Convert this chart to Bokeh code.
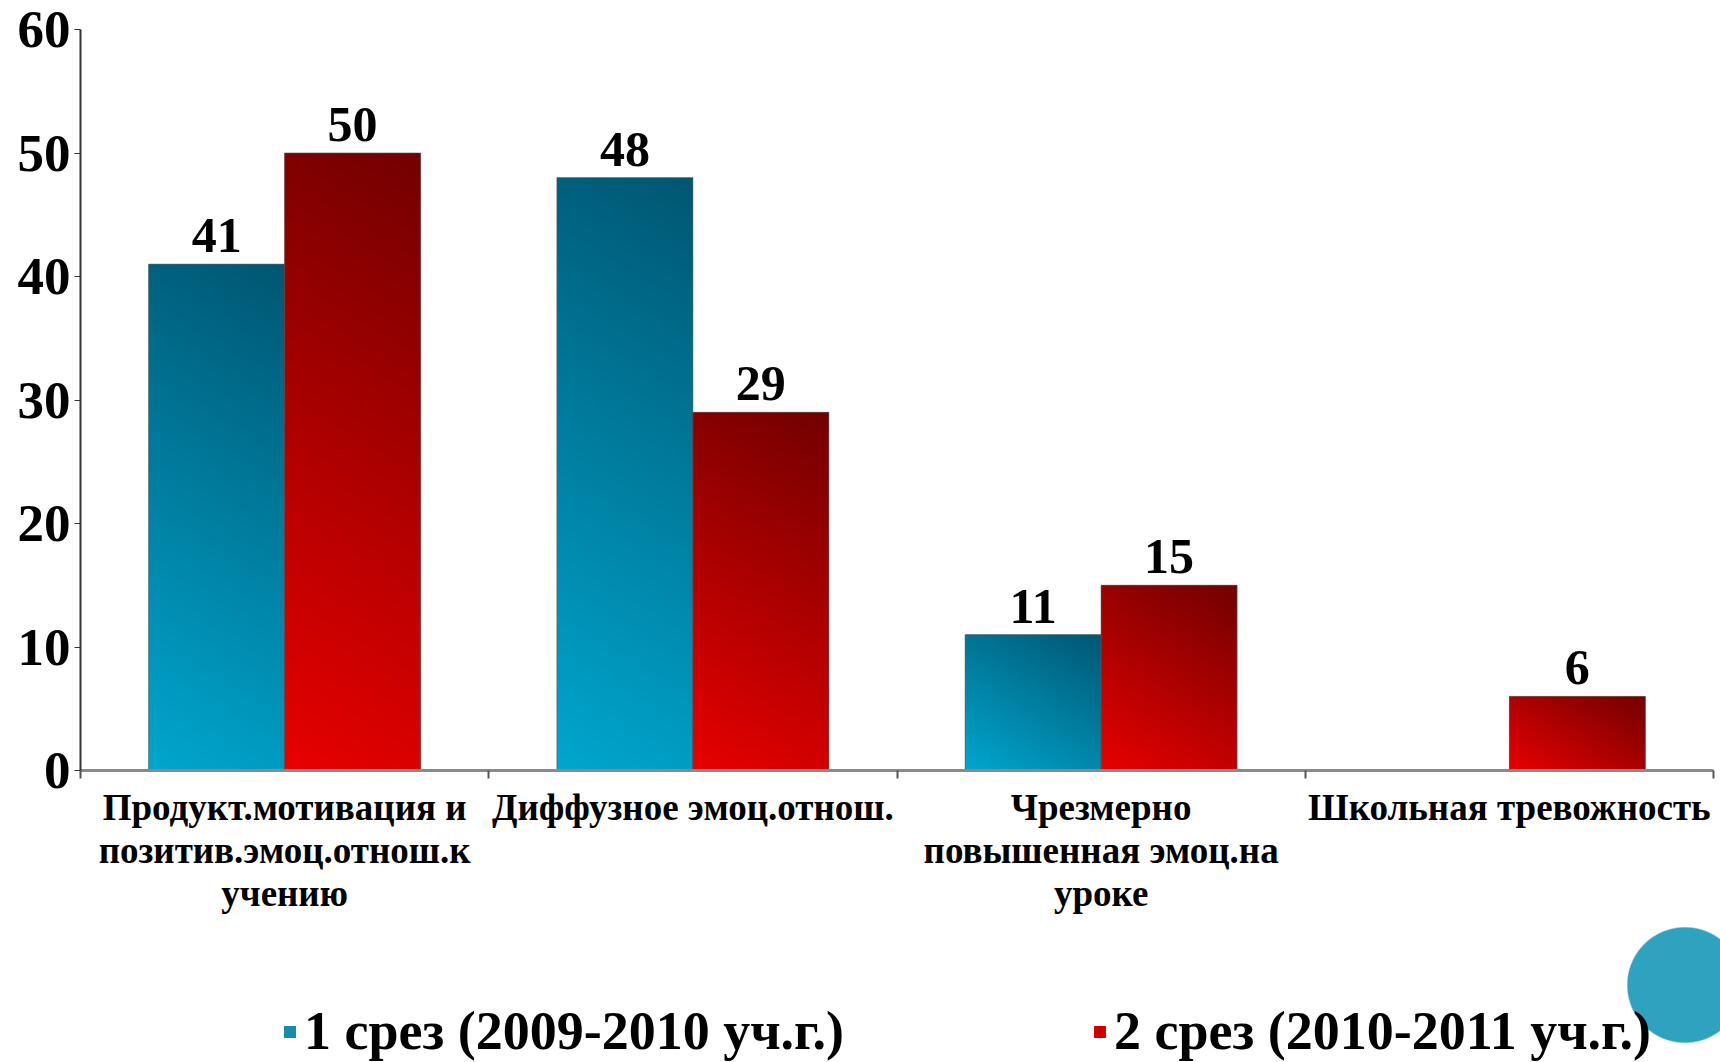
import numpy as np
from bokeh.plotting import figure
from bokeh.layouts import column
from bokeh.models import (ColumnDataSource, Range1d, FixedTicker, Legend, LegendItem,
                          LabelSet, InlineStyleSheet)
from bokeh.embed import file_html
from bokeh.resources import INLINE

# ---- data ----
categories = [
    "Продукт.мотивация и\nпозитив.эмоц.отнош.к\nучению",
    "Диффузное эмоц.отнош.",
    "Чрезмерно\nповышенная эмоц.на\nуроке",
    "Школьная тревожность",
]
series_names = ["1 срез (2009-2010 уч.г.)", "2 срез (2010-2011 уч.г.)"]
series1 = [41, 48, 11, None]
series2 = [50, 29, 15, 6]
y_ticks = [0, 10, 20, 30, 40, 50, 60]

FONT = "Liberation Serif"
BLUE_LIGHT, BLUE_DARK, BLUE_MID = (0, 166, 206), (0, 86, 114), "#1a8aab"
RED_LIGHT, RED_DARK, RED_MID = (232, 0, 0), (114, 0, 0), "#cc0000"

W_TOTAL, H_TOTAL = 1720, 1062
TOP, LEFT, RIGHT, BOTTOM = 29, 80, 7, 152
FRAME_H = 741
H_MAIN = TOP + FRAME_H + BOTTOM
FRAME_W = W_TOTAL - LEFT - RIGHT

centers = [i + 0.5 for i in range(len(categories))]
bw = 0.333
offsets = [-bw / 2, bw / 2]

p = figure(width=W_TOTAL, height=H_MAIN, output_backend="svg", toolbar_location=None,
           x_range=Range1d(0, len(categories)), y_range=Range1d(0, 60),
           min_border_left=LEFT, min_border_top=TOP, min_border_right=RIGHT,
           min_border_bottom=BOTTOM)
p.outline_line_color = None
p.grid.visible = False
p.border_fill_alpha = 0
p.background_fill_alpha = 0

# pixel size of a bar, used only to orient the diagonal shading like the original
px_w = FRAME_W / len(categories) * bw
px_per_unit = FRAME_H / 60.0


def shade(v, light, dark, a=0.6):
    w = int(round(px_w))
    h = max(int(round(v * px_per_unit)), 2)
    X, Y = np.meshgrid(np.arange(w) + 0.5, np.arange(h) + 0.5)
    t = (a * X + Y) / (a * w + h)
    lo, hi = np.array(light, float), np.array(dark, float)
    rgb = lo + (hi - lo) * t[..., None]
    img = np.empty((h, w), dtype=np.uint32)
    view = img.view(dtype=np.uint8).reshape((h, w, 4))
    view[..., :3] = np.round(rgb).astype(np.uint8)
    view[..., 3] = 255
    return img


for vals, off, light, dark, mid in ((series1, offsets[0], BLUE_LIGHT, BLUE_DARK, BLUE_MID),
                                     (series2, offsets[1], RED_LIGHT, RED_DARK, RED_MID)):
    xs = [c + off for c, v in zip(centers, vals) if v is not None]
    tops = [v for v in vals if v is not None]
    src = ColumnDataSource(dict(x=xs, left=[x - bw / 2 for x in xs], top=tops,
                                label=[str(v) for v in tops],
                                img=[shade(v, light, dark) for v in tops]))
    p.vbar(x="x", top="top", bottom=0, width=bw, source=src, fill_color=mid, line_color=None)
    p.image_rgba(image="img", x="left", y=0, dw=bw, dh="top", source=src)
    p.vbar(x="x", top="top", bottom=0, width=bw, source=src, fill_color=None,
           line_color="#555555", line_alpha=0.6, line_width=1)
    p.add_layout(LabelSet(x="x", y="top", text="label", source=src, text_align="center",
                          text_baseline="bottom", y_offset=12, text_font=FONT,
                          text_font_style="bold", text_font_size="50px", text_color="black"))

ya = p.yaxis[0]
ya.ticker = FixedTicker(ticks=y_ticks)
ya.major_label_text_font = FONT
ya.major_label_text_font_style = "bold"
ya.major_label_text_font_size = "53px"
ya.major_label_text_color = "black"
ya.axis_line_color = "#333333"
ya.axis_line_width = 2
ya.major_tick_line_color = "#333333"
ya.major_tick_out = 6
ya.major_tick_in = 0
ya.minor_tick_line_color = None
ya.major_label_standoff = 4

xa = p.xaxis[0]
xa.ticker = FixedTicker(ticks=centers, minor_ticks=list(range(len(categories) + 1)))
xa.major_label_overrides = {c: lab for c, lab in zip(centers, categories)}
xa.major_label_text_font = FONT
xa.major_label_text_font_style = "bold"
xa.major_label_text_font_size = "37px"
xa.major_label_text_color = "black"
xa.major_label_text_line_height = 1.06
xa.axis_line_color = "#8a8a8a"
xa.axis_line_width = 3
xa.major_tick_line_color = None
xa.minor_tick_line_color = "#555555"
xa.minor_tick_line_width = 2
xa.minor_tick_out = 8
xa.minor_tick_in = 0
xa.major_label_standoff = 8

# ---- legend strip below the chart ----
leg = figure(width=W_TOTAL, height=H_TOTAL - H_MAIN, output_backend="svg",
             toolbar_location=None, x_axis_location=None, y_axis_location=None,
             x_range=Range1d(0, 1), y_range=Range1d(0, 1), min_border=0)
leg.outline_line_color = None
leg.grid.visible = False
leg.border_fill_alpha = 0
leg.background_fill_alpha = 0
# swatch renderers for the legend (zero-height bars: only their colour is used)
lr1 = leg.vbar(x=[0.5], top=[0], bottom=[0], width=0.01, fill_color=BLUE_MID, line_color=None)
lr2 = leg.vbar(x=[0.5], top=[0], bottom=[0], width=0.01, fill_color=RED_MID, line_color=None)
legend = Legend(items=[LegendItem(label=series_names[0], renderers=[lr1]),
                       LegendItem(label=series_names[1], renderers=[lr2])],
                orientation="horizontal", location=(202, 0),
                label_text_font=FONT, label_text_font_style="bold",
                label_text_font_size="54px", label_text_color="black",
                glyph_width=15, glyph_height=15, label_standoff=7, spacing=248,
                padding=0, margin=0, border_line_color=None, background_fill_alpha=0)
leg.add_layout(legend, "center")

layout = column(p, leg, spacing=0)
# decorative slide ornament (teal circle, cut by the right edge), behind the chart
layout.stylesheets = [InlineStyleSheet(css="""
:host::before {
  content: ""; position: absolute; left: 1627px; top: 927px; width: 93px; height: 116px;
  background: radial-gradient(circle 58px at 58px 58px, #2ea2be 57px, rgba(46,162,190,0) 58.5px);
  pointer-events: none;
}
""")]

open("out.html", "w").write(file_html(layout, INLINE))
